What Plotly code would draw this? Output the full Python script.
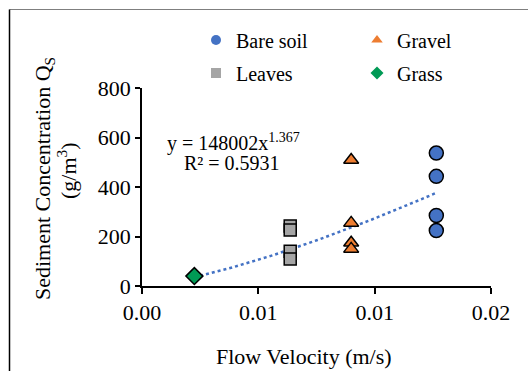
import numpy as np
import plotly.graph_objects as go

# ---- data ----
bare_x = [0.01265, 0.01265, 0.01265, 0.01265]
bare_y = [537, 443, 285, 224]
gravel_x = [0.00899, 0.00899, 0.00899, 0.00899]
gravel_y = [509, 255, 175, 150]
leaves_x = [0.00637, 0.00637, 0.00637, 0.00637]
leaves_y = [242, 226, 140, 109]
grass_x = [0.00225]
grass_y = [40]

# power trendline shown on the chart: y = 148002 x^1.367
trend_a = 148002
trend_b = 1.367
eq_line1 = "y = 148002x<sup>1.367</sup>"
eq_line2 = "R² = 0.5931"

x_tickvals = [0, 0.005, 0.01, 0.015]
x_ticktext = ["0.00", "0.01", "0.01", "0.02"]
y_tickvals = [0, 200, 400, 600, 800]

FONT = "Liberation Serif"
C_BARE = "#4472C4"
C_GRAVEL = "#ED7D31"
C_LEAVES = "#A5A5A5"
C_GRASS = "#009A55"

fig = go.Figure()

tx = np.linspace(min(grass_x), max(bare_x), 80)
fig.add_trace(go.Scatter(x=tx, y=trend_a * tx ** trend_b, mode="lines",
                         line=dict(color=C_BARE, width=2.5, dash="dot"),
                         showlegend=False, hoverinfo="skip"))

outline = dict(color="black", width=1.5)
fig.add_trace(go.Scatter(x=bare_x, y=bare_y, mode="markers", name="Bare soil",
                         marker=dict(symbol="circle", size=14, color=C_BARE, line=outline),
                         showlegend=False))
fig.add_trace(go.Scatter(x=gravel_x, y=gravel_y, mode="markers", name="Gravel",
                         marker=dict(symbol="triangle-up", size=13, color=C_GRAVEL, line=outline),
                         showlegend=False))
fig.add_trace(go.Scatter(x=leaves_x, y=leaves_y, mode="markers", name="Leaves",
                         marker=dict(symbol="square", size=12, color=C_LEAVES, line=outline),
                         showlegend=False))
fig.add_trace(go.Scatter(x=grass_x, y=grass_y, mode="markers", name="Grass",
                         marker=dict(symbol="diamond", size=13, color=C_GRASS, line=outline),
                         showlegend=False))

# legend entries (markers without outline, as in the reference legend)
leg = [("Bare soil", "circle", C_BARE, "legend"),
       ("Gravel", "triangle-up", C_GRAVEL, "legend"),
       ("Leaves", "square", C_LEAVES, "legend2"),
       ("Grass", "diamond", C_GRASS, "legend2")]
for name, sym, col, lg in leg:
    fig.add_trace(go.Scatter(x=[None], y=[None], mode="markers", name=name,
                             marker=dict(symbol=sym, size=10, color=col, line=dict(width=0)),
                             legend=lg, showlegend=True))

L, R, T, B = 142, 37, 88, 85
W, H = 528, 371
pw, ph = W - L - R, H - T - B

def px(xp):
    return (xp - L) / pw

def py(yp):
    return (H - B - yp) / ph

legend_common = dict(orientation="h", font=dict(family=FONT, size=20, color="black"),
                     entrywidth=116, entrywidthmode="pixels", bgcolor="rgba(0,0,0,0)",
                     xanchor="left", yanchor="middle", itemclick=False)

def ann(text, x, y, size=22, angle=0):
    return dict(text=text, x=px(x), y=py(y), xref="paper", yref="paper",
                xanchor="center", yanchor="middle", textangle=angle,
                showarrow=False, font=dict(family=FONT, size=size, color="black"))

fig.update_layout(
    width=W, height=H,
    margin=dict(l=L, r=R, t=T, b=B, autoexpand=False),
    paper_bgcolor="white", plot_bgcolor="white",
    font=dict(family=FONT, size=22, color="black"),
    legend=dict(x=px(196), y=py(40), **legend_common),
    legend2=dict(x=px(196), y=py(73), **legend_common),
    xaxis=dict(range=[0, 0.015], tickvals=x_tickvals, ticktext=x_ticktext,
               showgrid=False, zeroline=False, showline=True, linecolor="black",
               linewidth=1.5, ticks="outside", ticklen=6, tickcolor="black",
               tickwidth=1.5, tickfont=dict(family=FONT, size=22, color="black")),
    yaxis=dict(range=[0, 800], tickvals=y_tickvals,
               showgrid=False, zeroline=False, showline=True, linecolor="black",
               linewidth=1.5, ticks="outside", ticklen=5, tickcolor="black",
               tickwidth=1.5, tickfont=dict(family=FONT, size=22, color="black")),
    annotations=[
        ann(eq_line1, 233, 142, size=20),
        ann(eq_line2, 232, 163, size=20),
        ann("Flow Velocity (m/s)", 304, 356),
        ann("Sediment Concentration Q<sub>S</sub>", 44, 179, angle=-90),
        ann("(g/m<sup>3</sup>)", 67, 171, angle=-90),
    ],
    shapes=[
        dict(type="line", xref="paper", yref="paper", x0=px(9.5), x1=px(540),
             y0=py(9.5), y1=py(9.5), line=dict(color="#7F7F7F", width=1.2)),
        dict(type="line", xref="paper", yref="paper", x0=px(9.5), x1=px(9.5),
             y0=py(9.5), y1=py(380), line=dict(color="black", width=1.5)),
    ],
)

fig.write_html("out.html")
